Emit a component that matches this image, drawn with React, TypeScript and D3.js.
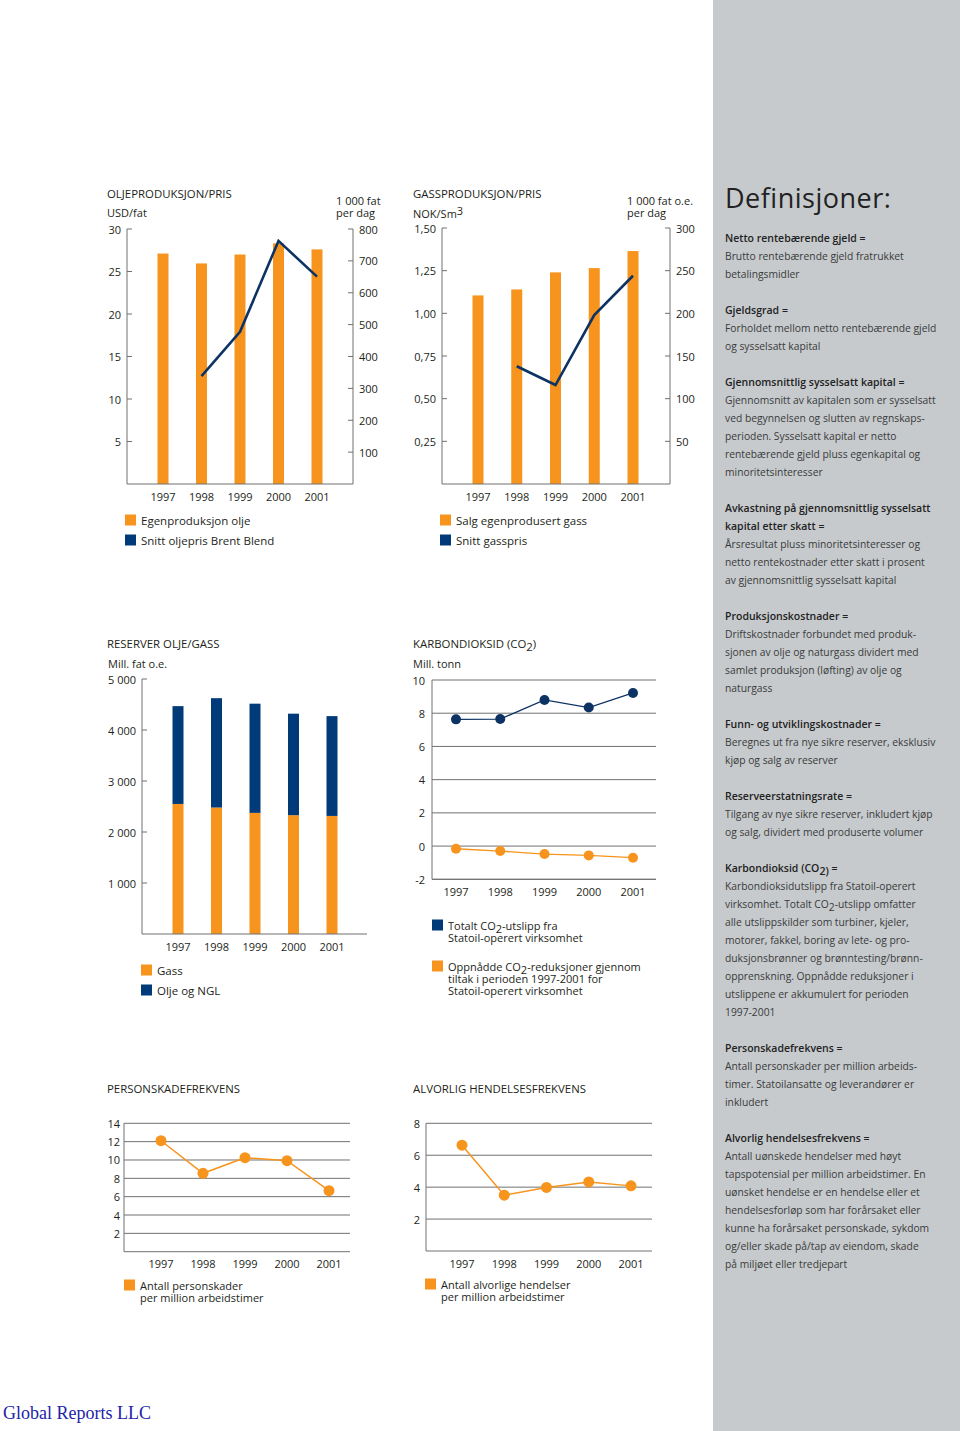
import React from 'react';
import * as d3 from 'd3';

// ---------- DATA ----------
const years = ['1997', '1998', '1999', '2000', '2001'];

// Oil production (1 000 fat per dag) and Brent price (USD/fat)
const oilProduction = [723, 692, 720, 755, 736];
const oilPrice: (number | null)[] = [null, 12.7, 17.9, 28.6, 24.4];
const oilLeftTicks = [5, 10, 15, 20, 25, 30];
const oilRightTicks = [100, 200, 300, 400, 500, 600, 700, 800];

// Gas sales (1 000 fat o.e. per dag) and gas price (NOK/Sm3)
const gasProduction = [221, 228, 248, 253, 273];
const gasPrice: (number | null)[] = [null, 0.69, 0.58, 0.99, 1.22];
const gasLeftTicks = [0.25, 0.5, 0.75, 1.0, 1.25, 1.5];
const gasRightTicks = [50, 100, 150, 200, 250, 300];

// Reserves (Mill. fat o.e.)
const reserveGas = [2550, 2480, 2375, 2330, 2315];
const reserveOil = [1918, 2144, 2141, 1990, 1957];
const reserveTicks = [1000, 2000, 3000, 4000, 5000];

// CO2 (Mill. tonn)
const co2Total = [7.63, 7.65, 8.8, 8.34, 9.22];
const co2Reduction = [-0.16, -0.3, -0.48, -0.56, -0.7];
const co2Ticks = [-2, 0, 2, 4, 6, 8, 10];

// Injury frequency
const injuryFreq = [12.1, 8.55, 10.25, 9.92, 6.65];
const injuryTicks = [2, 4, 6, 8, 10, 12, 14];

// Serious incident frequency
const seriousFreq = [6.63, 3.5, 3.98, 4.33, 4.08];
const seriousTicks = [2, 4, 6, 8];

const definitions: { head: string[]; body: string[] }[] = [
  { head: ['Netto rentebærende gjeld ='], body: ['Brutto rentebærende gjeld fratrukket', 'betalingsmidler'] },
  { head: ['Gjeldsgrad ='], body: ['Forholdet mellom netto rentebærende gjeld', 'og sysselsatt kapital'] },
  {
    head: ['Gjennomsnittlig sysselsatt kapital ='],
    body: [
      'Gjennomsnitt av kapitalen som er sysselsatt',
      'ved begynnelsen og slutten av regnskaps-',
      'perioden. Sysselsatt kapital er netto',
      'rentebærende gjeld pluss egenkapital og',
      'minoritetsinteresser',
    ],
  },
  {
    head: ['Avkastning på gjennomsnittlig sysselsatt', 'kapital etter skatt ='],
    body: [
      'Årsresultat pluss minoritetsinteresser og',
      'netto rentekostnader etter skatt i prosent',
      'av gjennomsnittlig sysselsatt kapital',
    ],
  },
  {
    head: ['Produksjonskostnader ='],
    body: [
      'Driftskostnader forbundet med produk-',
      'sjonen av olje og naturgass dividert med',
      'samlet produksjon (løfting) av olje og',
      'naturgass',
    ],
  },
  {
    head: ['Funn- og utviklingskostnader ='],
    body: ['Beregnes ut fra nye sikre reserver, eksklusiv', 'kjøp og salg av reserver'],
  },
  {
    head: ['Reserveerstatningsrate ='],
    body: ['Tilgang av nye sikre reserver, inkludert kjøp', 'og salg, dividert med produserte volumer'],
  },
  {
    head: ['Karbondioksid (CO{2)} ='],
    body: [
      'Karbondioksidutslipp fra Statoil-operert',
      'virksomhet. Totalt CO{2}-utslipp omfatter',
      'alle utslippskilder som turbiner, kjeler,',
      'motorer, fakkel, boring av lete- og pro-',
      'duksjonsbrønner og brønntesting/brønn-',
      'opprenskning. Oppnådde reduksjoner i',
      'utslippene er akkumulert for perioden',
      '1997-2001',
    ],
  },
  {
    head: ['Personskadefrekvens ='],
    body: [
      'Antall personskader per million arbeids-',
      'timer. Statoilansatte og leverandører er',
      'inkludert',
    ],
  },
  {
    head: ['Alvorlig hendelsesfrekvens ='],
    body: [
      'Antall uønskede hendelser med høyt',
      'tapspotensial per million arbeidstimer. En',
      'uønsket hendelse er en hendelse eller et',
      'hendelsesforløp som har forårsaket eller',
      'kunne ha forårsaket personskade, sykdom',
      'og/eller skade på/tap av eiendom, skade',
      'på miljøet eller tredjepart',
    ],
  },
];

// ---------- STYLE ----------
const FONT = "'Open Sans', 'Noto Sans', sans-serif";
const ORANGE = '#f7941d';
const NAVY = '#003a78';
const LINE_NAVY = '#0d3364';
const AXIS = '#707070';
const TXT = '#231f20';
const PANEL = '#c6cacd';

const fmtThousands = (v: number) => d3.format(',')(v).replace(/,/g, ' ');
const fmtComma = (v: number) => d3.format('.2f')(v).replace('.', ',');

function Rich({ text, x, y, size = 11, weight = 400, fill = TXT, anchor = 'start' as any, shift = 3 }: any) {
  const parts = text.split(/(\{[^}]*\})/).filter((p: string) => p.length > 0);
  let prevSub = false;
  return (
    <text x={x} y={y} fontSize={size} fontWeight={weight} fill={fill} fontFamily={FONT} textAnchor={anchor} dominantBaseline="central">
      {parts.map((p: string, i: number) => {
        if (p.startsWith('{')) {
          prevSub = true;
          return (
            <tspan key={i} dy={shift}>
              {p.slice(1, -1)}
            </tspan>
          );
        }
        const dy = prevSub ? -shift : undefined;
        prevSub = false;
        return (
          <tspan key={i} dy={dy}>
            {p}
          </tspan>
        );
      })}
    </text>
  );
}

function T({ x, y, children, size = 11, anchor = 'start', weight = 400, fill = TXT }: any) {
  return (
    <text x={x} y={y} fontSize={size} fontWeight={weight} fill={fill} fontFamily={FONT} textAnchor={anchor} dominantBaseline="central">
      {children}
    </text>
  );
}

function YearLabels({ xs, y }: { xs: d3.ScalePoint<string>; y: number }) {
  return (
    <g>
      {years.map((yr) => (
        <T key={yr} x={xs(yr)} y={y} anchor="middle">
          {yr}
        </T>
      ))}
    </g>
  );
}

function LegendItem({ x, y, color, lines, lineGap = 12, size = 11.5 }: any) {
  return (
    <g>
      <rect x={x} y={y - 5.5} width={11} height={11} fill={color} />
      {lines.map((l: string, i: number) => (
        <Rich key={i} text={l} x={x + 16} y={y + i * lineGap} size={size} />
      ))}
    </g>
  );
}

// ---------- OIL / GAS COMBO CHART ----------
function ComboChart(props: any) {
  const {
    left, right, top, bottom, xRange, leftMax, rightMax, leftTicks, rightTicks, titleX,
    leftFmt, rightFmt, bars, line, title, unitLeft, unitRight1, unitRight2, unitRightX, legend,
  } = props;
  const xs = d3.scalePoint<string>().domain(years).range(xRange);
  const yl = d3.scaleLinear().domain([0, leftMax]).range([bottom, top]);
  const yr = d3.scaleLinear().domain([0, rightMax]).range([bottom, top]);
  const lineGen = d3
    .line<number | null>()
    .defined((d) => d !== null)
    .x((_, i) => xs(years[i]) as number)
    .y((d) => yl(d as number));
  const bw = 11;
  return (
    <g>
      <T x={titleX} y={193} size={11.4}>{title}</T>
      {unitLeft}
      <T x={unitRightX} y={200}>{unitRight1}</T>
      <T x={unitRightX} y={212}>{unitRight2}</T>
      {bars.map((v: number, i: number) => (
        <rect key={i} x={(xs(years[i]) as number) - bw / 2} y={yr(v)} width={bw} height={bottom - yr(v)} fill={ORANGE} />
      ))}
      <path d={lineGen(line) as string} fill="none" stroke={LINE_NAVY} strokeWidth={2.6} strokeLinejoin="miter" />
      <line x1={left} x2={left} y1={top} y2={bottom} stroke={AXIS} />
      <line x1={right} x2={right} y1={top} y2={bottom} stroke={AXIS} />
      <line x1={left} x2={right} y1={bottom} y2={bottom} stroke={AXIS} />
      {leftTicks.map((t: number) => (
        <g key={'l' + t}>
          <line x1={left} x2={left + 5} y1={yl(t)} y2={yl(t)} stroke={AXIS} />
          <T x={left - 6} y={yl(t)} anchor="end">{leftFmt(t)}</T>
        </g>
      ))}
      {rightTicks.map((t: number) => (
        <g key={'r' + t}>
          <line x1={right - 5} x2={right} y1={yr(t)} y2={yr(t)} stroke={AXIS} />
          <T x={right + 6} y={yr(t)}>{rightFmt(t)}</T>
        </g>
      ))}
      <YearLabels xs={xs} y={bottom + 12} />
      <LegendItem x={left - 2} y={520} color={ORANGE} lines={[legend[0]]} />
      <LegendItem x={left - 2} y={540} color={NAVY} lines={[legend[1]]} />
    </g>
  );
}

// ---------- RESERVES ----------
function Reserves() {
  const left = 142, right = 367, top = 679, bottom = 934;
  const xs = d3.scalePoint<string>().domain(years).range([178, 332]);
  const y = d3.scaleLinear().domain([0, 5000]).range([bottom, top]);
  const bw = 11;
  const stacked = d3.stack<any>().keys(['gas', 'oil'])(years.map((yr, i) => ({ year: yr, gas: reserveGas[i], oil: reserveOil[i] })));
  return (
    <g>
      <T x={107} y={643} size={11.4}>RESERVER OLJE/GASS</T>
      <T x={108} y={663}>Mill. fat o.e.</T>
      {stacked.map((s, si) => (
        <g key={si}>
          {s.map((d, i) => (
            <rect key={i} x={(xs(years[i]) as number) - bw / 2} y={y(d[1])} width={bw} height={y(d[0]) - y(d[1])} fill={si === 0 ? ORANGE : NAVY} />
          ))}
        </g>
      ))}
      <line x1={left} x2={left} y1={top} y2={bottom} stroke={AXIS} />
      <line x1={left} x2={right} y1={bottom} y2={bottom} stroke={AXIS} />
      {reserveTicks.map((t) => (
        <g key={t}>
          <line x1={left} x2={left + 5} y1={y(t)} y2={y(t)} stroke={AXIS} />
          <T x={left - 6} y={y(t)} anchor="end">{fmtThousands(t)}</T>
        </g>
      ))}
      <YearLabels xs={xs} y={946} />
      <LegendItem x={141} y={970} color={ORANGE} lines={['Gass']} />
      <LegendItem x={141} y={990} color={NAVY} lines={['Olje og NGL']} />
    </g>
  );
}

// ---------- GRID LINE CHART ----------
function GridLineChart(props: any) {
  const { left, right, top, bottom, xRange, domain, ticks, series, title, yearY, r = 5, labelGap = 6 } = props;
  const xs = d3.scalePoint<string>().domain(years).range(xRange);
  const y = d3.scaleLinear().domain(domain).range([bottom, top]);
  return (
    <g>
      {title}
      {ticks.map((t: number) => (
        <g key={t}>
          <line x1={left} x2={right} y1={y(t)} y2={y(t)} stroke={AXIS} />
          <T x={left - labelGap} y={y(t)} anchor="end">{t}</T>
        </g>
      ))}
      <line x1={left} x2={right} y1={bottom} y2={bottom} stroke={AXIS} />
      <line x1={left} x2={left} y1={top} y2={bottom} stroke={AXIS} />
      {series.map((s: any, si: number) => {
        const lg = d3.line<number>().x((_, i) => xs(years[i]) as number).y((d) => y(d));
        return (
          <g key={si}>
            <path d={lg(s.values) as string} fill="none" stroke={s.color} strokeWidth={s.width} />
            {s.values.map((v: number, i: number) => (
              <circle key={i} cx={xs(years[i])} cy={y(v)} r={r} fill={s.color} />
            ))}
          </g>
        );
      })}
      <YearLabels xs={xs} y={yearY} />
    </g>
  );
}

function Definitions() {
  const rows: any[] = [];
  let yy = 238;
  definitions.forEach((d) => {
    d.head.forEach((h) => {
      rows.push(<Rich key={'h' + yy} text={h} x={725} y={yy} size={10.5} weight={600} fill="#222" shift={3} />);
      yy += 18;
    });
    d.body.forEach((b) => {
      rows.push(<Rich key={'b' + yy} text={b} x={725} y={yy} size={10.3} weight={400} fill="#3a3a3a" shift={3} />);
      yy += 18;
    });
    yy += 18;
  });
  return <g>{rows}</g>;
}

export default function App() {
  return (
    <svg width={960} height={1431} style={{ position: 'absolute', left: 0, top: 0, background: '#fff' }}>
      <rect x={0} y={0} width={960} height={1431} fill="#fff" />
      <rect x={713} y={0} width={247} height={1431} fill={PANEL} />
      <text x={725} y={197} fontSize={27} fill="#222" fontFamily={FONT} dominantBaseline="central" letterSpacing={0.5}>
        Definisjoner:
      </text>
      <Definitions />

      <ComboChart
        left={127}
        right={353}
        top={229}
        bottom={484}
        xRange={[163, 317]}
        leftMax={30}
        rightMax={800}
        leftTicks={oilLeftTicks}
        rightTicks={oilRightTicks}
        leftFmt={(v: number) => String(v)}
        rightFmt={(v: number) => String(v)}
        bars={oilProduction}
        line={oilPrice}
        titleX={107}
        title="OLJEPRODUKSJON/PRIS"
        unitLeft={<T x={107} y={212}>USD/fat</T>}
        unitRight1="1 000 fat"
        unitRight2="per dag"
        unitRightX={336}
        legend={['Egenproduksjon olje', 'Snitt oljepris Brent Blend']}
      />
      <ComboChart
        left={442}
        right={670}
        top={228}
        bottom={484}
        xRange={[478, 633]}
        leftMax={1.5}
        rightMax={300}
        leftTicks={gasLeftTicks}
        rightTicks={gasRightTicks}
        leftFmt={fmtComma}
        rightFmt={(v: number) => String(v)}
        bars={gasProduction}
        line={gasPrice}
        titleX={413}
        title="GASSPRODUKSJON/PRIS"
        unitLeft={
          <text x={413} y={213} fontSize={11} fill={TXT} fontFamily={FONT} dominantBaseline="central">
            NOK/Sm<tspan dy={-3}>3</tspan>
          </text>
        }
        unitRight1="1 000 fat o.e."
        unitRight2="per dag"
        unitRightX={627}
        legend={['Salg egenprodusert gass', 'Snitt gasspris']}
      />

      <Reserves />

      <GridLineChart
        left={432}
        right={656}
        top={680}
        bottom={879.3}
        xRange={[456, 633]}
        domain={[-2, 10]}
        ticks={co2Ticks}
        yearY={891}
        labelGap={7}
        title={
          <g>
            <Rich text="KARBONDIOKSID (CO{2})" x={413} y={643} size={11.4} />
            <T x={413} y={663}>Mill. tonn</T>
          </g>
        }
        series={[
          { values: co2Total, color: LINE_NAVY, width: 1.3 },
          { values: co2Reduction, color: ORANGE, width: 1.3 },
        ]}
      />
      <LegendItem x={432} y={925} size={11} color={NAVY} lines={['Totalt CO{2}-utslipp fra', 'Statoil-operert virksomhet']} />
      <LegendItem
        x={432}
        y={966}
        size={11}
        color={ORANGE}
        lines={['Oppnådde CO{2}-reduksjoner gjennom', 'tiltak i perioden 1997-2001 for', 'Statoil-operert virksomhet']}
      />

      <GridLineChart
        left={124}
        right={350}
        top={1123.3}
        bottom={1251.7}
        xRange={[161, 329]}
        domain={[0, 14]}
        ticks={injuryTicks}
        yearY={1263}
        labelGap={4}
        r={5.5}
        title={<T x={107} y={1088} size={11.4}>PERSONSKADEFREKVENS</T>}
        series={[{ values: injuryFreq, color: ORANGE, width: 1.5 }]}
      />
      <LegendItem x={124} y={1285} size={11} color={ORANGE} lines={['Antall personskader', 'per million arbeidstimer']} />

      <GridLineChart
        left={426}
        right={652}
        top={1123.3}
        bottom={1251}
        xRange={[462, 631]}
        domain={[0, 8]}
        ticks={seriousTicks}
        yearY={1263}
        labelGap={6}
        r={5.5}
        title={<T x={413} y={1088} size={11.4}>ALVORLIG HENDELSESFREKVENS</T>}
        series={[{ values: seriousFreq, color: ORANGE, width: 1.5 }]}
      />
      <LegendItem x={425} y={1284} size={11} color={ORANGE} lines={['Antall alvorlige hendelser', 'per million arbeidstimer']} />

      <text x={3} y={1419} fontSize={18} fill="#2323a6" fontFamily="'Liberation Serif', 'Times New Roman', serif">
        Global Reports LLC
      </text>
    </svg>
  );
}
